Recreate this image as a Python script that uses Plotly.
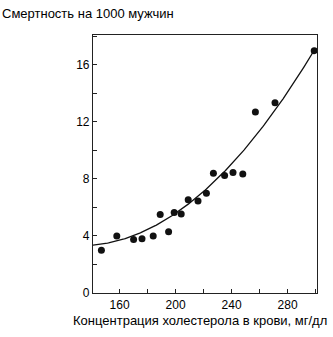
import numpy as np
import plotly.graph_objects as go

# Serum cholesterol (mg/dl) and mortality per 1000 men
cholesterol = [147, 158, 170, 176, 184, 189, 195, 199, 204, 209, 216, 222, 227, 235, 241, 248, 257, 271, 299]
mortality = [3.0, 4.0, 3.75, 3.8, 4.0, 5.5, 4.3, 5.65, 5.55, 6.55, 6.45, 7.0, 8.4, 8.25, 8.45, 8.35, 12.7, 13.35, 17.0]

x_ticks = [160, 200, 240, 280]
y_ticks = [0, 4, 8, 12, 16]

# quadratic trend: mortality = a + b*(x - 140) + c*(x - 140)^2
trend_coef = [3.35, 0.0078, 0.000492]
trend_start = 141

xs = np.linspace(trend_start, max(cholesterol), 200)
u = xs - 140
ys = trend_coef[0] + trend_coef[1] * u + trend_coef[2] * u ** 2

font = "Liberation Sans, Arial, sans-serif"
ink = "#111"

fig = go.Figure()
fig.add_trace(go.Scatter(x=xs, y=ys, mode="lines",
                         line=dict(color=ink, width=1.3), hoverinfo="skip"))
fig.add_trace(go.Scatter(x=cholesterol, y=mortality, mode="markers",
                         marker=dict(color=ink, size=7)))

axis_common = dict(showline=True, linecolor="#222", linewidth=1.2, mirror=True,
                   ticks="inside", ticklen=4, tickcolor="#222", showgrid=False,
                   zeroline=False, tickfont=dict(family=font, size=12, color="#000"))

fig.update_xaxes(range=[141, 301], tickvals=x_ticks,
                 minor=dict(dtick=20, tick0=140, ticks="inside", ticklen=4, tickcolor="#222"),
                 **axis_common)
fig.update_yaxes(range=[0, 18.1], tickvals=y_ticks,
                 minor=dict(dtick=2, tick0=0, ticks="inside", ticklen=4, tickcolor="#222"),
                 **axis_common)

fig.update_layout(
    width=333, height=337,
    margin=dict(l=93, r=16, t=35, b=44),
    paper_bgcolor="white", plot_bgcolor="white",
    showlegend=False,
    annotations=[
        dict(text="Смертность на 1000 мужчин", xref="paper", yref="paper",
             x=-93/224, y=1 + 22/258, xanchor="left", yanchor="middle",
             showarrow=False, font=dict(family=font, size=13, color="#000")),
        dict(text="Концентрация холестерола в крови, мг/дл", xref="paper", yref="paper",
             x=-22/224, y=-27/258, xanchor="left", yanchor="middle",
             showarrow=False, font=dict(family=font, size=13, color="#000")),
    ],
)

fig.write_html("out.html")
